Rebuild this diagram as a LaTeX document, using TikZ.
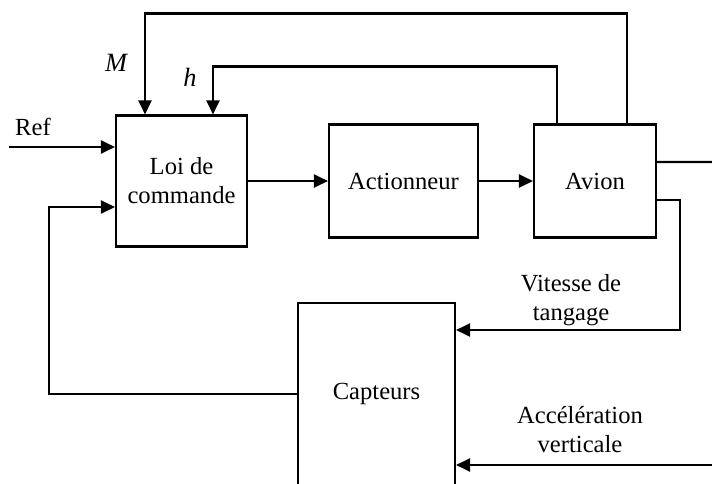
\documentclass[tikz,border=0pt]{standalone}
\usepackage{fontspec}
\setmainfont{Liberation Serif}
\usetikzlibrary{arrows.meta}

\begin{document}
\begin{tikzpicture}[
		x=0.02cm,
		y=-0.02cm,
		every node/.style={
			font=\fontsize{14}{16.5}\selectfont,
			align=center,
		},
		block/.style={
			draw,
			line width=1.2pt,
			inner sep=0pt,
		},
		signal/.style={
			line width=1.2pt,
			-{Triangle[length=2.8mm,width=2.6mm]},
		},
		var/.style={
			font=\fontsize{15}{18}\selectfont\itshape,
		},
	]
		\useasboundingbox (0,0) rectangle (712,483);

		% blocks
		\node[block, minimum width=2.62cm, minimum height=2.62cm] (loi) at (181.5,181) {Loi de\\commande};
		\node[block, minimum width=2.98cm, minimum height=2.26cm] (act) at (403.5,181) {Actionneur};
		\node[block, minimum width=2.44cm, minimum height=2.26cm] (avion) at (595,181) {Avion};
		\node[block, minimum width=3.14cm, minimum height=3.64cm] (capt) at (376.5,394) {Capteurs};

		% free ends
		\coordinate (ref) at (9,147);
		\coordinate (out) at (712,162);
		\coordinate (acc) at (712,465);
		\coordinate (vt) at (680,330);
		\coordinate (fb) at (49,207);

		% labels
		\node[var] (mlabel) at (116,63) {M};
		\node[var] (hlabel) at (190,77) {h};
		\node (reflabel) at (33,127) {Ref};
		\node (vlabel) at (571,300) {Vitesse de\\tangage};
		\node (alabel) at (580,430) {Accélération\\verticale};

		% forward path
		\draw[signal] (ref) -- (ref -| loi.west);
		\draw[signal] (loi) -- (act);
		\draw[signal] (act) -- (avion);
		\draw[line width=1.2pt] ([yshift=0.38cm]avion.east) -- (out);

		% feedback
		\draw[signal] ([xshift=0.64cm]avion.north) -- ++(0,-110) -| ([xshift=-0.73cm]loi.north);
		\draw[signal] ([xshift=-0.76cm]avion.north) -- ++(0,-57) -| ([xshift=0.63cm]loi.north);
		\draw[signal] ([yshift=-0.38cm]avion.east) -| (vt) -- (vt -| capt.east);
		\draw[signal] (acc) -- (acc -| capt.east);
		\draw[signal] (capt.west) -| (fb) -- (fb -| loi.west);
	\end{tikzpicture}
\end{document}
